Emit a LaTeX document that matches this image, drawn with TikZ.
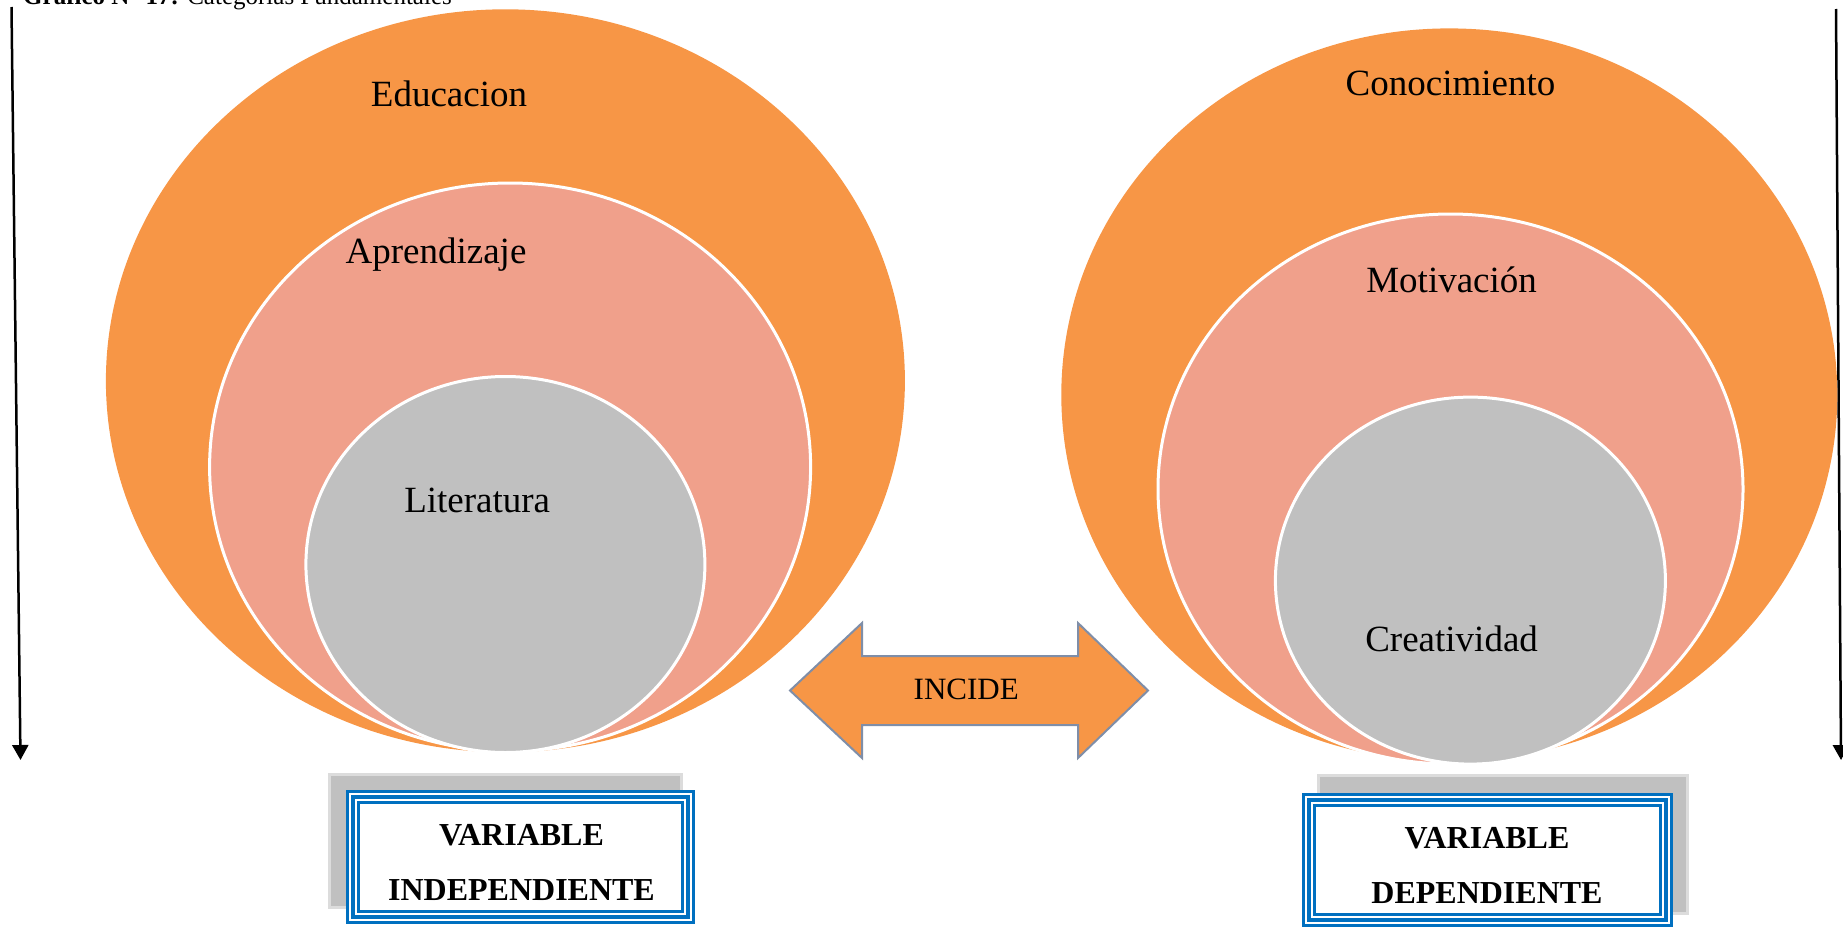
\documentclass[tikz,border=0pt]{standalone}
\usepackage{fontspec}
\setmainfont{Liberation Serif}
\usetikzlibrary{shapes.geometric,arrows.meta,calc}
\definecolor{orng}{HTML}{F79646}
\definecolor{pnk}{HTML}{F0A08B}
\definecolor{gry}{HTML}{C0C0C0}
\definecolor{blu}{HTML}{0070C0}
\definecolor{arrline}{HTML}{7F8EA8}
\definecolor{shadowedge}{HTML}{DCDCDC}
\begin{document}
\begin{tikzpicture}[x=1pt,y=-1pt,
  blob/.style={ellipse, inner sep=0pt, outer sep=0pt},
  outerc/.style={blob, fill=orng},
  midc/.style={blob, fill=pnk, draw=white, line width=3pt},
  innerc/.style={blob, fill=gry, draw=white, line width=3pt},
  lbl/.style={font=\fontsize{37}{40}\selectfont, text height=26pt, text depth=0pt, inner sep=0pt},
  varrow/.style={line width=2.5pt, -{Triangle[width=16pt,length=15pt]}},
  shadowbox/.style={fill=gry, draw=shadowedge, line width=3pt, inner sep=0pt, outer sep=0pt},
  bluebox/.style={fill=white, draw=blu, line width=3pt, inner sep=0pt, outer sep=0pt},
  boxtext/.style={font=\fontsize{32}{55}\selectfont\bfseries, align=center, inner sep=0pt},
  bigarrow/.style={fill=orng, draw=arrline, line width=2pt, line join=miter},
  inclbl/.style={font=\fontsize{31}{34}\selectfont, text height=21pt, text depth=0pt, inner sep=0pt}
]
\useasboundingbox (0,0) rectangle (1843,926);

% caption (clipped at the top)
\node[anchor=base west, inner sep=0pt, font=\fontsize{25}{28}\selectfont] (cap) at (23,5)
  {\textbf{Gráfico N° 17:} Categorías Fundamentales};

% side arrows
\coordinate (la1) at (11.5,7);
\coordinate (la2) at (20.5,760);
\coordinate (ra1) at (1836,9);
\coordinate (ra2) at (1841,760);
\draw[varrow] (la1) -- (la2);
\draw[varrow] (ra1) -- (ra2);

% left circles
\node[outerc, minimum width=799pt, minimum height=743pt] (edu) at (505.4,380.8) {};
\node[midc, minimum width=601pt, minimum height=568pt] (apr) at (510.1,467) {};
\node[innerc, minimum width=399pt, minimum height=376pt] (lit) at (505.4,564.5) {};
\node[lbl] (edut) at (449,93) {Educacion};
\node[lbl] (aprt) at (436,250.4) {Aprendizaje};
\node[lbl] (litt) at (477.2,499.5) {Literatura};

% right circles
\node[outerc, minimum width=776pt, minimum height=733pt] (con) at (1449.3,394.9) {};
\node[midc, minimum width=585pt, minimum height=550pt] (mot) at (1450.5,489) {};
\node[innerc, minimum width=390pt, minimum height=367pt] (cre) at (1470.4,580.6) {};
\node[lbl] (cont) at (1450.5,82.3) {Conocimiento};
\node[lbl] (mott) at (1451.6,279.7) {Motivación};
\node[lbl] (cret) at (1451.6,638.2) {Creatividad};

% double arrow INCIDE
\draw[bigarrow] (790,690.5) -- (862,623) -- (862,656) -- (1078,656) -- (1078,623)
  -- (1148,690.5) -- (1078,758) -- (1078,725) -- (862,725) -- (862,758) -- cycle;
\node[inclbl] (inc) at (966.2,689) {INCIDE};

% left variable box
\node[shadowbox, minimum width=352pt, minimum height=133pt] (vish) at (505.5,841) {};
\node[bluebox, minimum width=346pt, minimum height=131pt] (vi) at (520.5,857) {};
\draw[blu, line width=4pt] ($(vi.north west)+(5.5,5.5)$) rectangle ($(vi.south east)+(-5.5,-5.5)$);
\draw[blu, line width=3pt] ($(vi.north west)+(11,11)$) rectangle ($(vi.south east)+(-11,-11)$);
\node[boxtext] (vit) at (521.5,862) {VARIABLE\\INDEPENDIENTE};

% right variable box
\node[shadowbox, minimum width=369pt, minimum height=138pt] (vdsh) at (1503,844.5) {};
\node[bluebox, minimum width=368pt, minimum height=131pt] (vd) at (1487.5,859.5) {};
\draw[blu, line width=4pt] ($(vd.north west)+(5.5,5.5)$) rectangle ($(vd.south east)+(-5.5,-5.5)$);
\draw[blu, line width=3pt] ($(vd.north west)+(11,11)$) rectangle ($(vd.south east)+(-11,-11)$);
\node[boxtext] (vdt) at (1487,865.5) {VARIABLE\\DEPENDIENTE};
\end{tikzpicture}
\end{document}
